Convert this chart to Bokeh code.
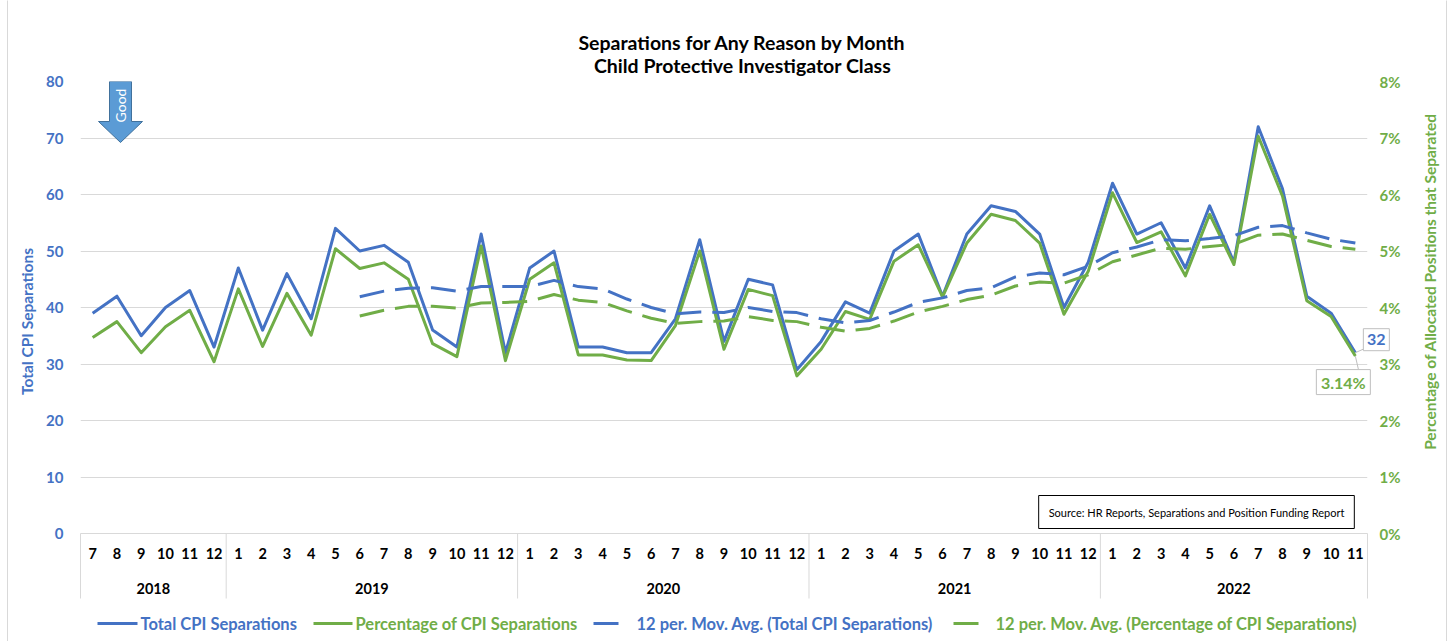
import math
from bokeh.plotting import figure
from bokeh.models import (Range1d, LinearAxis, FixedTicker, Label, PrintfTickFormatter)
from bokeh.core.properties import value
from bokeh.embed import file_html
from bokeh.resources import INLINE

# ---------------- data ----------------
month_labels = ["7", "8", "9", "10", "11", "12",
                "1", "2", "3", "4", "5", "6", "7", "8", "9", "10", "11", "12",
                "1", "2", "3", "4", "5", "6", "7", "8", "9", "10", "11", "12",
                "1", "2", "3", "4", "5", "6", "7", "8", "9", "10", "11", "12",
                "1", "2", "3", "4", "5", "6", "7", "8", "9", "10", "11"]
month_years = (["2018"] * 6 + ["2019"] * 12 + ["2020"] * 12 + ["2021"] * 12 + ["2022"] * 11)
years = ["2018", "2019", "2020", "2021", "2022"]

total_sep = [39, 42, 35, 40, 43, 33,
             47, 36, 46, 38, 54, 50, 51, 48, 36, 33, 53, 32,
             47, 50, 33, 33, 32, 32, 38, 52, 34, 45, 44, 29,
             34, 41, 39, 50, 53, 42, 53, 58, 57, 53, 40, 48,
             62, 53, 55, 47, 58, 48, 72, 61, 42, 39, 32]

pct_sep = [3.47, 3.75, 3.20, 3.66, 3.95, 3.04,
           4.33, 3.31, 4.25, 3.51, 5.04, 4.69, 4.79, 4.50, 3.36, 3.13, 5.09, 3.06,
           4.50, 4.79, 3.16, 3.16, 3.07, 3.06, 3.68, 5.00, 3.26, 4.32, 4.21, 2.79,
           3.26, 3.93, 3.79, 4.82, 5.11, 4.19, 5.14, 5.65, 5.54, 5.14, 3.88, 4.64,
           6.03, 5.15, 5.34, 4.56, 5.65, 4.76, 7.03, 5.97, 4.12, 3.84, 3.14]

# 12 per. moving averages, from 2019-6 onwards
ma_start = 11
ma_total = [41.9, 42.9, 43.4, 43.5, 42.9, 43.7, 43.7, 43.7, 44.8, 43.7, 43.3, 41.5,
            40.0, 38.9, 39.2, 39.1, 40.0, 39.3, 39.1, 38.0, 37.3, 37.7, 39.2, 40.9,
            41.7, 43.0, 43.5, 45.4, 46.1, 45.8, 47.3, 49.7, 50.7, 52.0, 51.8, 52.2,
            52.7, 54.2, 54.5, 53.2, 52.1, 51.4]
ma_pct = [3.85, 3.95, 4.02, 4.02, 3.99, 4.08, 4.09, 4.11, 4.23, 4.13, 4.09, 3.94,
          3.81, 3.72, 3.75, 3.76, 3.84, 3.77, 3.75, 3.65, 3.58, 3.63, 3.76, 3.92,
          4.02, 4.14, 4.22, 4.38, 4.45, 4.43, 4.58, 4.81, 4.93, 5.05, 5.03, 5.08,
          5.12, 5.28, 5.30, 5.19, 5.08, 5.03]

legend_labels = ["Total CPI Separations", "Percentage of CPI Separations",
                 "12 per. Mov. Avg. (Total CPI Separations)",
                 "12 per. Mov. Avg. (Percentage of CPI Separations)"]

# ---------------- styling / layout ----------------
BLUE = "#4472C4"
GREEN = "#70AD47"
GRID = "#D9D9D9"
FONT = "Lato"
DASH = "25 11"

# frame placement in page pixels
FL, FT, FW, FH = 80, 81, 1287, 452
FR, FB = FL + FW, FT + FH
W, H = 1449, 641

n = len(month_labels)
x = list(range(n))
x_ma = x[ma_start:ma_start + len(ma_total)]
YMAX = 80
PMAX = 8
PX_X = FW / n
PX_Y = FH / YMAX


def X(px):          # page pixel -> x data
    return (px - FL) / PX_X - 0.5


def Y(py):          # page pixel -> left-axis data
    return (FB - py) / PX_Y


p = figure(frame_width=FW, frame_height=FH,
           min_border_left=FL, min_border_right=W - FR, min_border_top=FT, min_border_bottom=H - FB,
           x_range=Range1d(-0.5, n - 0.5), y_range=Range1d(0, YMAX),
           output_backend="svg", toolbar_location=None)
p.extra_y_ranges = {"pct": Range1d(0, PMAX)}
p.outline_line_color = None
p.background_fill_color = "white"
p.border_fill_color = "white"
p.xgrid.visible = False
p.ygrid.grid_line_color = GRID
p.ygrid.grid_line_width = 1
p.ygrid.ticker = FixedTicker(ticks=list(range(0, YMAX + 1, 10)))


def style_axis(ax, color, size, standoff):
    ax.axis_line_color = None
    ax.major_tick_line_color = None
    ax.minor_tick_line_color = None
    ax.major_label_standoff = standoff
    ax.major_label_text_color = color
    ax.major_label_text_font = FONT
    ax.major_label_text_font_style = "bold"
    ax.major_label_text_font_size = size


# left axis
ya = p.yaxis[0]
ya.ticker = FixedTicker(ticks=list(range(0, YMAX + 1, 10)))
style_axis(ya, BLUE, "15px", 11)

# right axis
ra = LinearAxis(y_range_name="pct", ticker=FixedTicker(ticks=list(range(0, PMAX + 1))),
                formatter=PrintfTickFormatter(format="%d%%"))
style_axis(ra, GREEN, "15px", 6)
p.add_layout(ra, "right")

# month axis
xa = p.xaxis[0]
xa.ticker = FixedTicker(ticks=x)
xa.major_label_overrides = {i: m for i, m in enumerate(month_labels)}
style_axis(xa, "black", "14.5px", 8)
xa.axis_line_color = GRID

# year axis
year_centers = []
for yv in years:
    idx = [i for i, v in enumerate(month_years) if v == yv]
    year_centers.append((idx[0] + idx[-1]) / 2)
yax = LinearAxis(ticker=FixedTicker(ticks=year_centers),
                 major_label_overrides={c: yv for c, yv in zip(year_centers, years)})
style_axis(yax, "black", "14.5px", 15)
p.add_layout(yax, "below")

# year separators below the frame
bounds = [-0.5] + [i - 0.5 for i in range(1, n) if month_years[i] != month_years[i - 1]] + [n - 0.5]
p.segment(x0=bounds, y0=[0] * len(bounds), x1=bounds, y1=[Y(598)] * len(bounds),
          line_color=GRID, line_width=1, level="overlay")

# light chart border (left / right)
p.segment(x0=[X(7), X(1446)], y0=[Y(0), Y(0)], x1=[X(7), X(1446)], y1=[Y(H), Y(H)],
          line_color=GRID, line_width=1, level="overlay")

# series
r_total = p.line(x, total_sep, line_color=BLUE, line_width=3, line_join="round")
r_pct = p.line(x, pct_sep, line_color=GREEN, line_width=3, line_join="round", y_range_name="pct")
r_mat = p.line(x_ma, ma_total, line_color=BLUE, line_width=3, line_dash=DASH, line_join="round")
r_map = p.line(x_ma, ma_pct, line_color=GREEN, line_width=3, line_dash=DASH, line_join="round",
               y_range_name="pct")

# legend (drawn below the frame; each text in its series colour)
leg_y = Y(623)
leg_line = [(97, 137, None), (313, 352, None), (593, 620, DASH), (953, 982, DASH)]
leg_text_x = [140, 355, 636, 995]
leg_cols = [BLUE, GREEN, BLUE, GREEN]
for (a, b, dash), tx, col, lab in zip(leg_line, leg_text_x, leg_cols, legend_labels):
    if dash:
        p.segment(x0=[X(a)], y0=[leg_y], x1=[X(b)], y1=[leg_y], line_color=col, line_width=3,
                  line_dash=dash, level="overlay")
    else:
        p.segment(x0=[X(a)], y0=[leg_y], x1=[X(b)], y1=[leg_y], line_color=col, line_width=3,
                  level="overlay")
    p.text(x=[X(tx)], y=[leg_y], text=[lab], text_align="left", text_baseline="middle",
           text_font=value(FONT), text_font_style="bold", text_font_size="16.5px",
           text_color=col, level="overlay")

# titles
p.text(x=[X(742), X(742)], y=[Y(42), Y(65)],
       text=["Separations for Any Reason by Month", "Child Protective Investigator Class"],
       text_align="center", text_baseline="middle", text_font=value(FONT),
       text_font_style="bold", text_font_size="19.5px", text_color="black", level="overlay")

# axis titles
p.text(x=[X(26)], y=[Y(321)], text=["Total CPI Separations"], angle=math.pi / 2,
       text_align="center", text_baseline="middle", text_font=value(FONT),
       text_font_style="bold", text_font_size="15.5px", text_color=BLUE, level="overlay")
p.text(x=[X(1429)], y=[Y(281)], text=["Percentage of Allocated Positions that Separated"],
       angle=math.pi / 2, text_align="center", text_baseline="middle", text_font=value(FONT),
       text_font_style="bold", text_font_size="15.5px", text_color=GREEN, level="overlay")

# "Good" arrow
ax0 = X(120)
arrow_xs = [ax0 - 11 / PX_X, ax0 + 11 / PX_X, ax0 + 11 / PX_X, ax0 + 22 / PX_X, ax0,
            ax0 - 22 / PX_X, ax0 - 11 / PX_X]
arrow_ys = [YMAX, YMAX, Y(121), Y(121), Y(142), Y(121), Y(121)]
p.patch(arrow_xs, arrow_ys, fill_color="#5B9BD5", line_color="#41719C", line_width=1)
p.add_layout(Label(x=ax0, y=Y(105), text="Good", angle=math.pi / 2,
                   text_align="center", text_baseline="middle", text_font=FONT,
                   text_font_size="14px", text_color="white"))

# data labels for the last point
last = n - 1
lx_t, ly_t = last + 21 / PX_X, total_sep[-1] + 13 / PX_Y
lx_p, ly_p = last - 12 / PX_X, pct_sep[-1] - 26 / (FH / PMAX)
p.segment(x0=[last + 9 / PX_X], y0=[total_sep[-1] + 4 / PX_Y], x1=[last], y1=[total_sep[-1]],
          line_color="#BFBFBF", line_width=1, level="overlay")
p.segment(x0=[last + 3 / PX_X], y0=[pct_sep[-1] - 13 / (FH / PMAX)], x1=[last], y1=[pct_sep[-1]],
          line_color="#BFBFBF", line_width=1, level="overlay", y_range_name="pct")
p.rect(x=[lx_t], y=[ly_t], width=26, height=22, width_units="screen", height_units="screen",
       fill_color="white", line_color="#BFBFBF", line_width=1, level="overlay")
p.text(x=[lx_t], y=[ly_t], text=[str(total_sep[-1])], text_align="center",
       text_baseline="middle", text_font=value(FONT), text_font_style="bold",
       text_font_size="16px", text_color=BLUE, level="overlay")
p.rect(x=[lx_p], y=[ly_p], width=54, height=25, width_units="screen", height_units="screen",
       fill_color="white", line_color="#BFBFBF", line_width=1, level="overlay", y_range_name="pct")
p.text(x=[lx_p], y=[ly_p], text=[f"{pct_sep[-1]:.2f}%"], text_align="center",
       text_baseline="middle", text_font=value(FONT), text_font_style="bold",
       text_font_size="16px", text_color=GREEN, level="overlay", y_range_name="pct")

# source box
p.add_layout(Label(x=X(1196), y=Y(511.5),
                   text="Source: HR Reports, Separations and Position Funding Report",
                   text_align="center", text_baseline="middle", text_font=FONT,
                   text_font_size="11px", text_color="black", background_fill_color="white",
                   border_line_color="black", border_line_width=1, padding=10))

open("out.html", "w").write(file_html(p, INLINE))
